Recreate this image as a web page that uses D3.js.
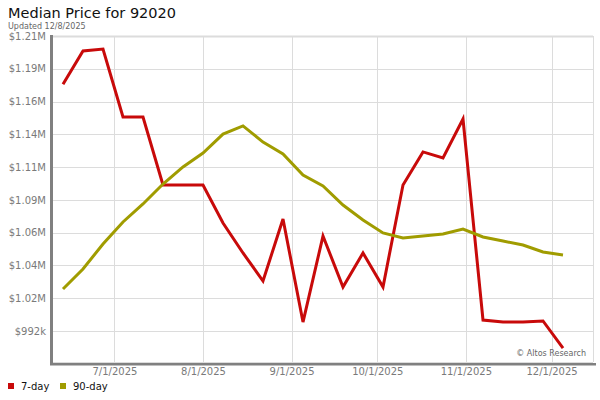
<!DOCTYPE html>
<html>
<head>
<meta charset="utf-8">
<script src="https://cdn.jsdelivr.net/npm/d3@7"></script>
<style>
  body { margin: 0; background: #fff; }
  svg { font-family: "DejaVu Sans", Verdana, sans-serif; }
</style>
</head>
<body>
<div id="chart"></div>
<script>
// weekly data points (Fridays)
var weeks = ["2025-06-13","2025-06-20","2025-06-27","2025-07-04","2025-07-11","2025-07-18",
  "2025-07-25","2025-08-01","2025-08-08","2025-08-15","2025-08-22","2025-08-29","2025-09-05",
  "2025-09-12","2025-09-19","2025-09-26","2025-10-03","2025-10-10","2025-10-17","2025-10-24",
  "2025-10-31","2025-11-07","2025-11-14","2025-11-21","2025-11-28","2025-12-05"];

var price7day = [1174000,1198600,1200100,1149900,1149900,1099700,1099700,1099700,1071600,
  1049500,1028800,1074600,998500,1062000,1024400,1049500,1024400,1099700,1124100,1119600,
  1148400,1000000,998500,998500,999300,979300];

var price90day = [1022900,1037700,1056100,1072400,1085700,1100400,1113000,1123300,1137300,
  1143300,1131400,1122600,1107100,1099000,1084900,1073900,1064300,1060600,1062000,1063500,
  1067200,1061300,1058300,1055400,1050200,1048000];

var yTickValues = [1209700,1185500,1161300,1137100,1112900,1088700,1064500,1040300,1016100,991900];
var yTickLabels = ["$1.21M","$1.19M","$1.16M","$1.14M","$1.11M","$1.09M","$1.06M","$1.04M","$1.02M","$992k"];

var xTickDates = ["2025-07-01","2025-08-01","2025-09-01","2025-10-01","2025-11-01","2025-12-01"];
var xTickLabels = ["7/1/2025","8/1/2025","9/1/2025","10/1/2025","11/1/2025","12/1/2025"];

var seriesNames = ["7-day","90-day"];
var seriesColors = ["#c80a0a","#a09c00"];

var width = 600, height = 400,
    plot = {left: 53, right: 593, top: 36, bottom: 362};

var parse = d3.utcParse("%Y-%m-%d");

var svg = d3.select("#chart").append("svg").attr("width", width).attr("height", height);

var x = d3.scaleUtc()
    .domain([new Date(Date.UTC(2025,5,9,12)), new Date(Date.UTC(2025,11,15,12))])
    .range([plot.left, plot.right]);
var y = d3.scaleLinear().domain([969000, 1209700]).range([plot.bottom, plot.top]);

// title
svg.append("text").attr("x", 8).attr("y", 18).style("font-size", "14.5px").style("fill", "#111")
    .text("Median Price for 92020");
svg.append("text").attr("x", 8).attr("y", 28.5).style("font-size", "8px").style("fill", "#666")
    .text("Updated 12/8/2025");

// grid
var grid = svg.append("g");
grid.selectAll(".hg").data(yTickValues).enter().append("line")
    .attr("x1", plot.left).attr("x2", plot.right)
    .attr("y1", d => Math.round(y(d)) + 0.5).attr("y2", d => Math.round(y(d)) + 0.5)
    .style("stroke", "#dcdcdc").style("stroke-width", (d,i) => i == 0 ? 2 : 1);
grid.selectAll(".vg").data(xTickDates).enter().append("line")
    .attr("x1", d => Math.round(x(parse(d))) + 0.5).attr("x2", d => Math.round(x(parse(d))) + 0.5)
    .attr("y1", plot.top).attr("y2", plot.bottom)
    .style("stroke", "#dcdcdc");
grid.append("line").attr("x1", plot.right + 0.5).attr("x2", plot.right + 0.5)
    .attr("y1", plot.top).attr("y2", plot.bottom).style("stroke", "#dcdcdc");
grid.append("line").attr("x1", plot.left).attr("x2", plot.right)
    .attr("y1", plot.bottom + 0.5).attr("y2", plot.bottom + 0.5).style("stroke", "#dcdcdc");

// axes (labels via d3 axes, domain lines drawn as thick bars)
var yAxis = d3.axisLeft(y).tickValues(yTickValues).tickSize(0).tickPadding(0)
    .tickFormat((d,i) => yTickLabels[i]);
var yg = svg.append("g").attr("transform", "translate(46,0)").call(yAxis);
yg.select(".domain").remove();
yg.selectAll("text").style("font-size", "10px").style("fill", "#7a7a7a").style("font-family", "DejaVu Sans");

var xAxis = d3.axisBottom(x).tickValues(xTickDates.map(parse)).tickSize(0).tickPadding(0)
    .tickFormat((d,i) => xTickLabels[i]);
var xg = svg.append("g").attr("transform", "translate(0,368)").call(xAxis);
xg.select(".domain").remove();
xg.selectAll("text").style("font-size", "10px").style("fill", "#7a7a7a").style("font-family", "DejaVu Sans");

svg.append("rect").attr("x", 50).attr("y", plot.top - 1).attr("width", 3).attr("height", 330).style("fill", "#808080");
svg.append("rect").attr("x", 50).attr("y", 363).attr("width", 546).attr("height", 2.5).style("fill", "#808080");

// copyright
svg.append("text").attr("x", 586).attr("y", 356).attr("text-anchor", "end")
    .style("font-size", "8px").style("fill", "#666").text("\u00a9 Altos Research");

// lines
var line = d3.line().x((d,i) => x(parse(weeks[i]))).y(d => y(d));
[price7day, price90day].forEach((s, k) => {
    svg.append("path").datum(s).attr("d", line)
        .style("fill", "none").style("stroke", seriesColors[k])
        .style("stroke-width", 3).style("stroke-linejoin", "miter");
});

// legend
var legend = svg.append("g").attr("class", "legend");
var legendX = [8, 60];
legend.selectAll("rect").data(seriesNames).enter().append("rect")
    .attr("x", (d,i) => legendX[i]).attr("y", 383).attr("width", 6).attr("height", 6)
    .style("fill", (d,i) => seriesColors[i]);
legend.selectAll("text").data(seriesNames).enter().append("text")
    .attr("x", (d,i) => legendX[i] + 13).attr("y", 390)
    .style("font-size", "10px").style("fill", "#111").text(d => d);
</script>
</body>
</html>
